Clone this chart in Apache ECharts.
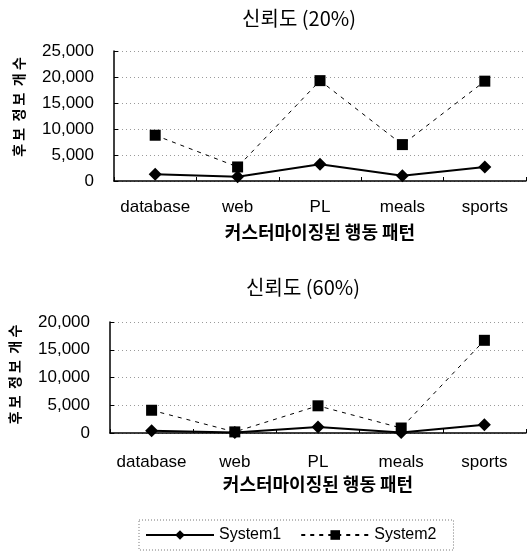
<!DOCTYPE html>
<html>
<head>
<meta charset="utf-8">
<script src="https://cdn.jsdelivr.net/npm/echarts@6/dist/echarts.min.js"></script>
<style>
  html, body { margin: 0; padding: 0; background: #fff; }
  #chart { width: 531px; height: 558px; }
</style>
</head>
<body>
<div id="chart"></div>
<script>
// Behaviour patterns on the category axis
const categories = ['database', 'web', 'PL', 'meals', 'sports'];

// Candidate counts at 20% confidence
const sys1At20 = [1300, 800, 3200, 1000, 2700];
const sys2At20 = [8800, 2700, 19300, 7000, 19200];

// Candidate counts at 60% confidence
const sys1At60 = [400, 100, 1100, 100, 1500];
const sys2At60 = [4100, 200, 4900, 900, 16700];

const titles = ['신뢰도 (20%)', '신뢰도 (60%)'];
const xName = '커스터마이징된 행동 패턴';
const yName = '후 보  정 보  개 수';
const yMax = [25000, 20000];
const seriesNames = ['System1', 'System2'];

const LATIN = '"Liberation Sans", Arial, sans-serif';
const KOREAN = '"Noto Sans CJK KR", "Liberation Sans", sans-serif';

const grids = [
  { left: 114, right: 5, top: 51, height: 130 },
  { left: 110, right: 5, top: 322, height: 111 }
];

function xAxisFor(i) {
  return {
    type: 'category',
    gridIndex: i,
    data: categories,
    boundaryGap: true,
    axisLine: { lineStyle: { color: '#000', width: 1.5 } },
    axisTick: { show: true, inside: true, length: 4, lineStyle: { color: '#000' } },
    axisLabel: {
      interval: 0, color: '#000', fontFamily: LATIN, fontSize: 17,
      margin: i === 0 ? 18 : 21
    },
    name: xName,
    nameLocation: 'middle',
    nameGap: 42,
    nameTextStyle: { color: '#000', fontFamily: KOREAN, fontSize: 18, fontWeight: 'bold' }
  };
}

function yAxisFor(i) {
  return {
    type: 'value',
    gridIndex: i,
    min: 0,
    max: yMax[i],
    interval: 5000,
    axisLine: { show: true, lineStyle: { color: '#000', width: 1.5 } },
    axisTick: { show: true, inside: true, length: 4, lineStyle: { color: '#000' } },
    axisLabel: {
      color: '#000', fontFamily: LATIN, fontSize: 17, margin: 20,
      formatter: v => v.toLocaleString('en-US')
    },
    splitLine: { show: true, lineStyle: { color: '#9a9a9a', type: [1, 3], width: 1 } },
    name: yName,
    nameLocation: 'middle',
    nameRotate: 90,
    nameGap: 88,
    nameTextStyle: {
      color: '#000', fontFamily: KOREAN, fontSize: 14, fontWeight: 'bold',
      padding: i === 0 ? [0, 0, 0, 18] : [0, 0, 0, 6]
    }
  };
}

function sys1Series(i, data) {
  return {
    name: seriesNames[0],
    type: 'line',
    xAxisIndex: i,
    yAxisIndex: i,
    data: data,
    symbol: 'diamond',
    symbolSize: 13,
    itemStyle: { color: '#000' },
    lineStyle: { color: '#000', width: 2, type: 'solid' }
  };
}

function sys2Series(i, data) {
  return {
    name: seriesNames[1],
    type: 'line',
    xAxisIndex: i,
    yAxisIndex: i,
    data: data,
    symbol: 'rect',
    symbolSize: 11,
    itemStyle: { color: '#000' },
    lineStyle: { color: '#000', width: 1, type: [4, 5] }
  };
}

const chart = echarts.init(document.getElementById('chart'), null, { renderer: 'canvas' });

chart.setOption({
  animation: false,
  backgroundColor: '#fff',
  title: [
    {
      text: titles[0], left: 294, top: 3, textAlign: 'center',
      textStyle: { fontFamily: KOREAN, fontSize: 20, fontWeight: 'normal', color: '#000' }
    },
    {
      text: titles[1], left: 298, top: 272, textAlign: 'center',
      textStyle: { fontFamily: KOREAN, fontSize: 20, fontWeight: 'normal', color: '#000' }
    }
  ],
  legend: {
    data: seriesNames,
    left: 139,
    top: 520,
    orient: 'horizontal',
    itemWidth: 68,
    itemHeight: 12,
    itemGap: 19,
    padding: [7, 17, 7, 6],
    borderColor: '#777',
    borderWidth: 1,
    borderType: [1, 2],
    textStyle: { color: '#000', fontFamily: LATIN, fontSize: 16 }
  },
  grid: grids,
  xAxis: [xAxisFor(0), xAxisFor(1)],
  yAxis: [yAxisFor(0), yAxisFor(1)],
  series: [
    sys1Series(0, sys1At20),
    sys2Series(0, sys2At20),
    sys1Series(1, sys1At60),
    sys2Series(1, sys2At60)
  ]
});
</script>
</body>
</html>
